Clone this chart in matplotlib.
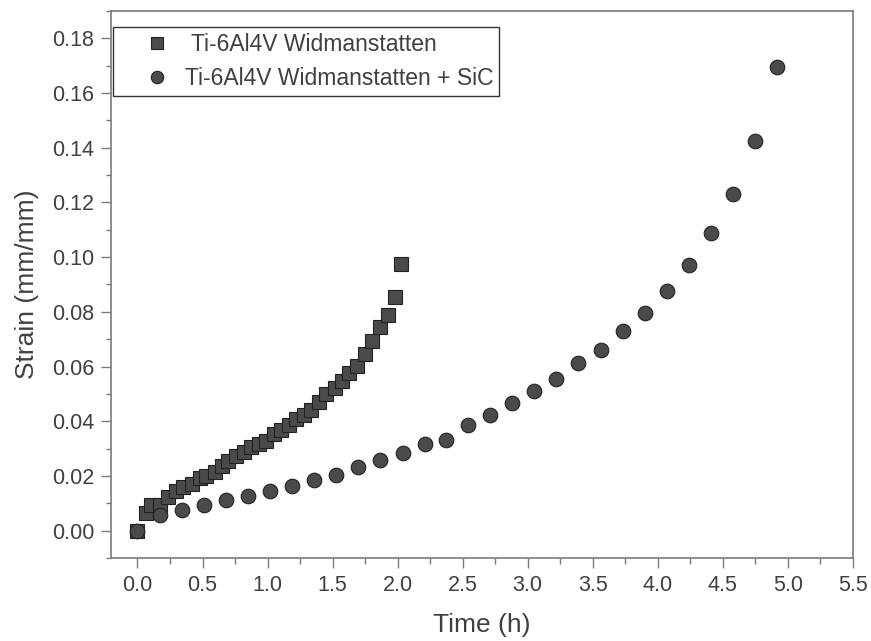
import numpy as np
import matplotlib
matplotlib.use('Agg')
import matplotlib.pyplot as plt
from matplotlib.ticker import MultipleLocator
from matplotlib.legend_handler import HandlerLine2D

plt.rcParams['font.family'] = ['Liberation Sans', 'DejaVu Sans']

# Ti-6Al4V Widmanstatten
t_w = [0.0, 0.063, 0.101, 0.173, 0.236, 0.295, 0.351, 0.416, 0.479, 0.525, 0.594,
       0.653, 0.696, 0.755, 0.817, 0.876, 0.934, 0.991, 1.047, 1.106, 1.164,
       1.221, 1.279, 1.336, 1.394, 1.451, 1.515, 1.574, 1.630, 1.689, 1.750,
       1.804, 1.865, 1.923, 1.980, 2.026]
s_w = [0.0, 0.0063, 0.0095, 0.0095, 0.0122, 0.0146, 0.0161, 0.0170, 0.0192, 0.0201, 0.0216,
       0.0237, 0.0253, 0.0274, 0.0289, 0.0304, 0.0316, 0.0328, 0.0353, 0.0369, 0.0386,
       0.0408, 0.0422, 0.0442, 0.0472, 0.0501, 0.0523, 0.0548, 0.0578, 0.0602, 0.0647,
       0.0694, 0.0745, 0.0788, 0.0855, 0.0976]

# Ti-6Al4V Widmanstatten + SiC
t_c = [0.0, 0.173, 0.339, 0.510, 0.679, 0.850, 1.016, 1.187, 1.356, 1.528, 1.699,
       1.867, 2.041, 2.210, 2.376, 2.545, 2.713, 2.882, 3.051, 3.219, 3.391,
       3.562, 3.731, 3.900, 4.070, 4.239, 4.408, 4.577, 4.745, 4.917]
s_c = [0.0, 0.0058, 0.0076, 0.0095, 0.0112, 0.0128, 0.0146, 0.0162, 0.0185, 0.0203, 0.0231,
       0.0259, 0.0285, 0.0316, 0.0332, 0.0386, 0.0423, 0.0465, 0.0510, 0.0556, 0.0614,
       0.0662, 0.0731, 0.0796, 0.0875, 0.0972, 0.1088, 0.1231, 0.1424, 0.1696]

txt = '#404040'
spine = '#7a7a7a'
fill = '#4a4a4a'
edge = '#222222'

fig = plt.figure(figsize=(8.71, 6.41), dpi=100)
ax = fig.add_axes([0.128, 0.1295, 0.851, 0.8535])

ax.plot(t_w, s_w, ls='none', marker='s', ms=10, mfc=fill, mec=edge, mew=0.8,
        label=' Ti-6Al4V Widmanstatten')
ax.plot(t_c, s_c, ls='none', marker='o', ms=10.5, mfc=fill, mec=edge, mew=0.8,
        label='Ti-6Al4V Widmanstatten + SiC')

ax.set_xlim(-0.2, 5.5)
ax.set_ylim(-0.01, 0.19)
ax.xaxis.set_major_locator(MultipleLocator(0.5))
ax.xaxis.set_minor_locator(MultipleLocator(0.25))
ax.yaxis.set_major_locator(MultipleLocator(0.02))
ax.yaxis.set_minor_locator(MultipleLocator(0.01))
ax.xaxis.set_major_formatter(plt.FormatStrFormatter('%.1f'))
ax.yaxis.set_major_formatter(plt.FormatStrFormatter('%.2f'))

ax.tick_params(which='major', length=7.5, width=1, color=spine, labelcolor=txt,
               labelsize=15.5, pad=5)
ax.tick_params(which='minor', length=4.5, width=1, color=spine)
ax.tick_params(axis='y', which='minor', length=3.5)
ax.tick_params(axis='x', which='both', top=False)
ax.tick_params(axis='y', which='both', right=False)
for sp in ax.spines.values():
    sp.set_color(spine)
    sp.set_linewidth(1.2)

ax.set_xlabel('Time (h)', fontsize=19, color=txt, labelpad=12)
ax.set_ylabel('Strain (mm/mm)', fontsize=19, color=txt, labelpad=9)

leg = ax.legend(loc='upper left', bbox_to_anchor=(113 / 871, 1 - 27 / 641),
                bbox_transform=fig.transFigure, borderaxespad=0, fontsize=16.5,
                fancybox=False, framealpha=1, edgecolor='#333333',
                handletextpad=0.2, borderpad=0.25, labelspacing=0.5,
                markerscale=0.85, handlelength=2.7,
                handler_map={plt.Line2D: HandlerLine2D(xpad=0.6)})
leg.get_frame().set_linewidth(1.0)
for t in leg.get_texts():
    t.set_color(txt)

fig.savefig('out.png', dpi=100)
